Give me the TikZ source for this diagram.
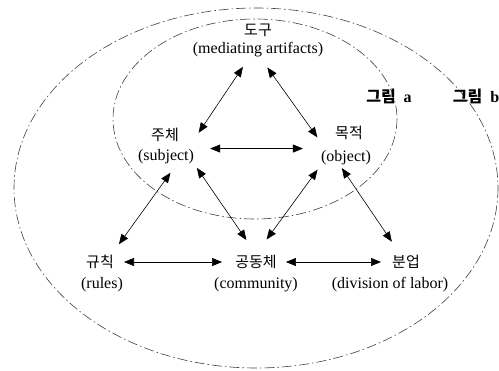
\documentclass[tikz,border=0pt]{standalone}
\usepackage{fontspec}
\setmainfont{Liberation Serif}
\newfontfamily\kr{Noto Sans CJK KR}
\usetikzlibrary{arrows.meta,positioning,calc}

\begin{document}
\begin{tikzpicture}[x=1pt,y=-1pt,
		kor/.style={inner sep=1pt,font=\kr\fontsize{15}{18}\selectfont},
		eng/.style={inner sep=1pt,font=\fontsize{16}{19}\selectfont},
		tag/.style={inner sep=1pt,font=\fontsize{16}{19}\selectfont\bfseries},
		link/.style={{Triangle[length=10pt,width=8pt]}-{Triangle[length=10pt,width=8pt]},line width=0.6pt},
		ring/.style={line width=0.6pt,black!75,dash pattern=on 10pt off 3pt on 1.5pt off 3pt}]
		
		\useasboundingbox (0,0) rectangle (499,371);
		
		% the two fields
		\draw[ring] (256,188) ellipse [x radius=242, y radius=180];
		\draw[ring] (255,119) ellipse [x radius=142, y radius=100];
		
		\node[tag] (figa) at (389,96) {{\kr 그림}\ \ a};
		\node[tag] (figb) at (476,96) {{\kr 그림}\ \ b};
		
		\node[kor] (toolK) at (258,30) {도구};
		\node[eng] (toolE) at (258,50) {(mediating artifacts)};
		\node[kor] (subjK) at (165,135) {주체};
		\node[eng] (subjE) at (166,157) {(subject)};
		\node[kor] (objK) at (349,133) {목적};
		\node[eng] (objE) at (346,158) {(object)};
		\node[kor] (rulesK) at (100,262) {규칙};
		\node[eng] (rulesE) at (102,285) {(rules)};
		\node[kor] (commK) at (256,262) {공동체};
		\node[eng] (commE) at (256,285) {(community)};
		\node[kor] (laborK) at (406,262) {분업};
		\node[eng] (laborE) at (390,285) {(division of labor)};
		
		\draw[link,shorten <=10pt,shorten >=19pt] (toolE.-138) -- (subjE.21);
		\draw[link,shorten <=11pt,shorten >=15pt] (toolE.-71) -- (objE.157);
		\draw[link,shorten <=15pt,shorten >=17pt] (subjE.north east) -- (subjE.north east -| objE.west);
		\draw[link,shorten <=9pt,shorten >=12pt] (subjE.-41) -- (rulesK.34);
		\draw[link,shorten <=3pt,shorten >=17pt] (subjE.south east) -- (commK.north);
		\draw[link,shorten <=4pt,shorten >=18pt] (objE.south west) -- (commK.north);
		\draw[link,shorten <=2pt,shorten >=15pt] (objE.-122) -- (laborK.126);
		\draw[link,shorten <=9pt,shorten >=12pt] (rulesK.east) -- (commK.west);
		\draw[link,shorten <=8pt,shorten >=10pt] (commK.east) -- (laborK.west);
		
	\end{tikzpicture}
\end{document}
